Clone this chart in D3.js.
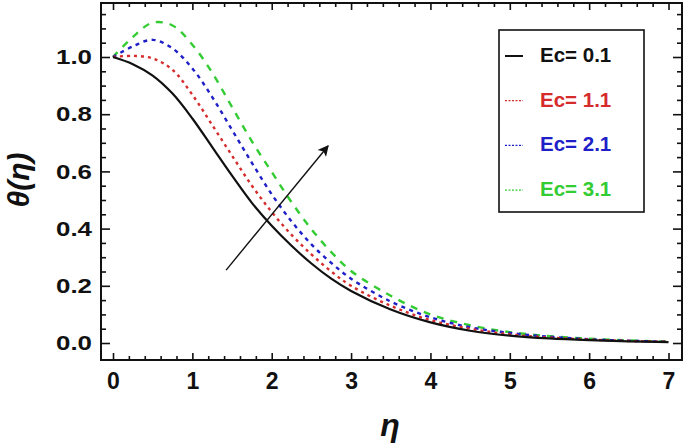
<!DOCTYPE html>
<html><head><meta charset="utf-8">
<script src="https://cdn.jsdelivr.net/npm/d3@7"></script>
<style>html,body{margin:0;padding:0;background:#fff;}svg{display:block;}</style>
</head><body>
<svg id="c" width="685" height="448"></svg>
<script>
const eta = [0,0.25,0.5,0.75,1,1.25,1.5,1.75,2,2.25,2.5,2.75,3,3.5,4,4.5,5,5.5,6,6.5,7];
const ec01 = [1.0,0.975,0.935,0.872,0.785,0.685,0.585,0.49,0.41,0.34,0.278,0.225,0.182,0.117,0.072,0.043,0.026,0.016,0.01,0.006,0.003];
const ec11 = [1.0,1.004,0.995,0.955,0.868,0.762,0.655,0.55,0.458,0.378,0.31,0.25,0.2,0.13,0.08,0.05,0.03,0.019,0.012,0.007,0.004];
const ec21 = [1.0,1.037,1.06,1.03,0.96,0.86,0.745,0.63,0.52,0.425,0.345,0.28,0.225,0.145,0.09,0.055,0.035,0.022,0.013,0.008,0.004];
const ec31 = [1.0,1.07,1.12,1.11,1.043,0.945,0.825,0.705,0.598,0.492,0.398,0.318,0.252,0.165,0.1,0.062,0.038,0.024,0.015,0.009,0.005];
const seriesNames = ["Ec= 0.1","Ec= 1.1","Ec= 2.1","Ec= 3.1"];
const xTicks = [0,1,2,3,4,5,6,7];
const yTicks = [0.0,0.2,0.4,0.6,0.8,1.0];
const arrowFrom = [1.425,0.255];
const arrowTo = [2.71,0.689];

const colors = ["#111111","#d62b2b","#1f1fc8","#33cc33"];
const dashes = [null,"3,4","4,4.5","7,7"];
const allSeries = [ec01,ec11,ec21,ec31];
const FONT = "'Liberation Sans',Arial,sans-serif";

const svg = d3.select("#c");
const L=101,R=682,T=3,B=360;
const x = d3.scaleLinear().domain([-0.1513,7.17]).range([L,R]);
const y = d3.scaleLinear().domain([-0.0594,1.1888]).range([B,T]);

const defs = svg.append("defs");
defs.append("marker").attr("id","ah").attr("viewBox","0 0 10 10")
  .attr("refX",9).attr("refY",5).attr("markerWidth",13).attr("markerHeight",11)
  .attr("markerUnits","userSpaceOnUse").attr("orient","auto")
  .append("path").attr("d","M0,0 L10,5 L0,10 L2.5,5 Z").attr("fill","#111");
defs.append("clipPath").attr("id","clip").append("rect")
  .attr("x",L).attr("y",T).attr("width",R-L).attr("height",B-T);

// curves
const line = d3.line().x((d,i)=>x(eta[i])).y(d=>y(d)).curve(d3.curveCatmullRom.alpha(0.5));
const g = svg.append("g").attr("clip-path","url(#clip)");
[3,2,1,0].forEach(k=>{
  g.append("path").attr("d",line(allSeries[k])).attr("fill","none")
   .attr("stroke",colors[k]).attr("stroke-width",k==0?2.2:2.4)
   .attr("stroke-dasharray",dashes[k]);
});

// arrow
svg.append("line").attr("x1",x(arrowFrom[0])).attr("y1",y(arrowFrom[1]))
  .attr("x2",x(arrowTo[0])).attr("y2",y(arrowTo[1]))
  .attr("stroke","#111").attr("stroke-width",1.4).attr("marker-end","url(#ah)");

// frame + ticks
const xMinor = d3.range(0,7.01,0.2).filter(v=>Math.abs(v-Math.round(v))>1e-6);
const yMinor = d3.range(0,1.151,0.05).filter(v=>Math.abs(v*5-Math.round(v*5))>1e-6);
const axB = d3.axisBottom(x).tickValues(xTicks).tickSizeInner(-7).tickSizeOuter(0).tickPadding(13).tickFormat(d3.format("d"));
const axL = d3.axisLeft(y).tickValues(yTicks).tickSizeInner(-9).tickSizeOuter(0).tickPadding(9).tickFormat(d3.format(".1f"));
const gB = svg.append("g").attr("transform",`translate(0,${B})`).call(axB);
const gL = svg.append("g").attr("transform",`translate(${L},0)`).call(axL);
svg.append("g").attr("transform",`translate(0,${B})`).call(d3.axisBottom(x).tickValues(xMinor).tickSizeInner(-4).tickSizeOuter(0).tickFormat(""));
svg.append("g").attr("transform",`translate(${L},0)`).call(d3.axisLeft(y).tickValues(yMinor).tickSizeInner(-5).tickSizeOuter(0).tickFormat(""));
svg.append("g").attr("transform",`translate(0,${T})`).call(d3.axisTop(x).tickValues(xTicks).tickSizeInner(-7).tickSizeOuter(0).tickFormat(""));
svg.append("g").attr("transform",`translate(0,${T})`).call(d3.axisTop(x).tickValues(xMinor).tickSizeInner(-4).tickSizeOuter(0).tickFormat(""));
svg.append("g").attr("transform",`translate(${R},0)`).call(d3.axisRight(y).tickValues(yTicks).tickSizeInner(-9).tickSizeOuter(0).tickFormat(""));
svg.append("g").attr("transform",`translate(${R},0)`).call(d3.axisRight(y).tickValues(yMinor).tickSizeInner(-5).tickSizeOuter(0).tickFormat(""));
svg.selectAll(".domain").remove();
svg.selectAll(".tick line").attr("stroke","#111").attr("stroke-width",1.6);
svg.append("rect").attr("x",L).attr("y",T).attr("width",R-L).attr("height",B-T)
  .attr("fill","none").attr("stroke","#111").attr("stroke-width",2);
gB.selectAll(".tick text").attr("font-family",FONT)
  .attr("font-weight","bold").attr("font-size",23).attr("fill","#111");
gL.selectAll(".tick text").attr("font-family",FONT)
  .attr("font-weight","bold").attr("font-size",21).attr("fill","#111")
  .attr("textLength",36).attr("lengthAdjust","spacingAndGlyphs");

// axis labels
svg.append("text").attr("x",390).attr("y",436).attr("text-anchor","middle")
  .attr("font-family",FONT).attr("font-weight","bold")
  .attr("font-style","italic").attr("font-size",32).attr("fill","#111").text("η");
svg.append("text").attr("transform","translate(29,180) rotate(-90)").attr("text-anchor","middle")
  .attr("font-family",FONT).attr("font-weight","bold")
  .attr("font-style","italic").attr("font-size",30).attr("fill","#111").text("θ(η)");

// legend
const lg = svg.append("g");
lg.append("rect").attr("x",499).attr("y",30).attr("width",145).attr("height",182)
  .attr("fill","#fff").attr("stroke","#111").attr("stroke-width",1.6);
seriesNames.forEach((n,k)=>{
  const base = 62 + k*44.7;
  const yy = base - 6;
  lg.append("line").attr("x1",505).attr("x2",523).attr("y1",yy).attr("y2",yy)
    .attr("stroke",colors[k]).attr("stroke-width",k==0?2:1.2).attr("stroke-dasharray",k==0?null:"2,1.5");
  lg.append("text").attr("x",540).attr("y",base).attr("font-family",FONT)
    .attr("font-weight","bold").attr("font-size",20.5).attr("fill",colors[k]).text(n);
});
</script>
</body></html>
